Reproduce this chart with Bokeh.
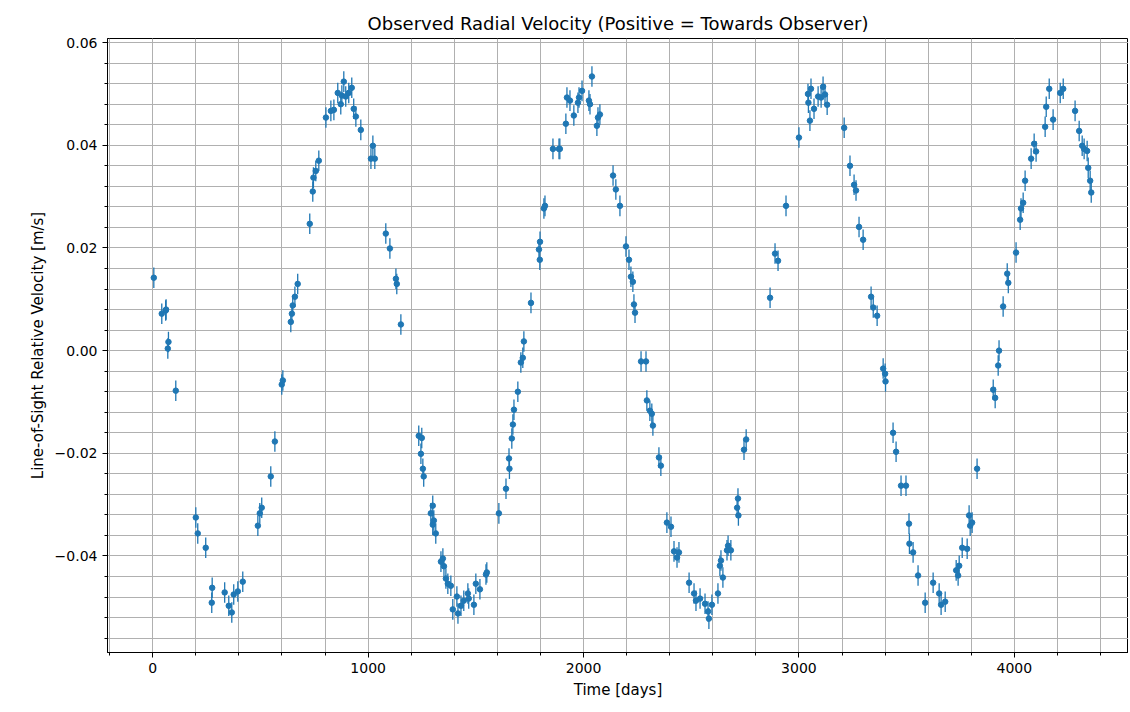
from bokeh.plotting import figure
from bokeh.models import ColumnDataSource, Whisker, SingleIntervalTicker, CustomJSTickFormatter, Range1d
from bokeh.embed import file_html
from bokeh.resources import INLINE

time_days = [5, 42, 60, 62, 70, 73, 107, 200, 209, 246, 274, 276, 334, 353, 367, 376, 395, 418,
             488, 497, 506, 548, 567, 599, 604, 641, 646, 650, 660, 673, 729, 743, 746, 757, 771,
             804, 827, 841, 859, 873, 878, 887, 896, 910, 924, 933, 943, 966, 1013, 1022, 1031,
             1082, 1101, 1129, 1133, 1152, 1235, 1249, 1245, 1254, 1258, 1291, 1300, 1305, 1300,
             1314, 1338, 1347, 1352, 1361, 1370, 1384, 1393, 1412, 1417, 1431, 1444, 1463, 1467,
             1491, 1500, 1519, 1547, 1551, 1607, 1640, 1654, 1656, 1667, 1672, 1677, 1695, 1709,
             1718, 1723, 1756, 1793, 1798, 1797, 1816, 1821, 1858, 1886, 1890, 1918, 1923, 1937,
             1955, 1974, 1979, 1993, 2025, 2030, 2039, 2062, 2067, 2076, 2137, 2150, 2169, 2197,
             2211, 2220, 2229, 2234, 2239, 2267, 2290, 2294, 2308, 2317, 2322, 2350, 2359, 2387,
             2406, 2420, 2434, 2443, 2490, 2513, 2522, 2541, 2564, 2578, 2582, 2596, 2624, 2633,
             2638, 2647, 2666, 2671, 2684, 2713, 2717, 2719, 2745, 2755, 2866, 2889, 2903, 2940,
             3000, 3042, 3044, 3051, 3056, 3070, 3089, 3103, 3112, 3121, 3131, 3210, 3237, 3256,
             3265, 3279, 3298, 3335, 3345, 3363, 3391, 3400, 3402, 3437, 3451, 3474, 3497, 3511,
             3513, 3530, 3553, 3586, 3623, 3651, 3660, 3679, 3730, 3739, 3744, 3758, 3781, 3790,
             3795, 3804, 3827, 3902, 3911, 3925, 3929, 3948, 3967, 3972, 4008, 4027, 4031, 4041,
             4050, 4078, 4092, 4101, 4143, 4148, 4162, 4180, 4213, 4227, 4282, 4301, 4315, 4324,
             4338, 4343, 4352, 4357]

velocity = [0.0142, 0.0072, 0.0078, 0.0080, 0.0004, 0.0017, -0.0078, -0.0325, -0.0356, -0.0384,
            -0.0491, -0.0462, -0.0471, -0.0497, -0.0510, -0.0475, -0.0469, -0.0450, -0.0341,
            -0.0317, -0.0306, -0.0245, -0.0177, -0.0066, -0.0058, 0.0056, 0.0072, 0.0088, 0.0105,
            0.0130, 0.0247, 0.0310, 0.0337, 0.0350, 0.0370, 0.0454, 0.0467, 0.0469, 0.0502, 0.0480,
            0.0497, 0.0524, 0.0495, 0.0502, 0.0512, 0.0471, 0.0456, 0.0430, 0.0374, 0.0399, 0.0374,
            0.0228, 0.0199, 0.0140, 0.0130, 0.0051, -0.0166, -0.0170, -0.0201, -0.0230, -0.0245,
            -0.0317, -0.0302, -0.0331, -0.0339, -0.0356, -0.0411, -0.0405, -0.0420, -0.0444,
            -0.0454, -0.0458, -0.0504, -0.0479, -0.0512, -0.0497, -0.0487, -0.0473, -0.0483,
            -0.0495, -0.0454, -0.0465, -0.0436, -0.0432, -0.0317, -0.0269, -0.0210, -0.0230,
            -0.0171, -0.0144, -0.0115, -0.0080, -0.0023, -0.0014, 0.0018, 0.0093, 0.0197, 0.0212,
            0.0177, 0.0277, 0.0282, 0.0393, 0.0393, 0.0393, 0.0442, 0.0493, 0.0487, 0.0458, 0.0483,
            0.0493, 0.0506, 0.0487, 0.0480, 0.0534, 0.0438, 0.0454, 0.0460, 0.0341, 0.0314, 0.0282,
            0.0203, 0.0177, 0.0144, 0.0134, 0.0090, 0.0074, -0.0021, -0.0021, -0.0097, -0.0117,
            -0.0123, -0.0146, -0.0208, -0.0224, -0.0335, -0.0343, -0.0391, -0.0403, -0.0393,
            -0.0452, -0.0473, -0.0487, -0.0483, -0.0493, -0.0508, -0.0522, -0.0495, -0.0473,
            -0.0419, -0.0409, -0.0442, -0.0389, -0.0380, -0.0389, -0.0306, -0.0288, -0.0321,
            -0.0193, -0.0173, 0.0103, 0.0189, 0.0175, 0.0282, 0.0415, 0.0500, 0.0483, 0.0448,
            0.0510, 0.0471, 0.0495, 0.0493, 0.0514, 0.0499, 0.0479, 0.0434, 0.0360, 0.0323, 0.0312,
            0.0241, 0.0216, 0.0105, 0.0084, 0.0068, -0.0035, -0.0045, -0.0060, -0.0160, -0.0197,
            -0.0263, -0.0263, -0.0337, -0.0376, -0.0393, -0.0438, -0.0491, -0.0452, -0.0473,
            -0.0495, -0.0489, -0.0428, -0.0438, -0.0419, -0.0384, -0.0386, -0.0321, -0.0341,
            -0.0335, -0.0230, -0.0076, -0.0092, -0.0029, 0.0000, 0.0086, 0.0150, 0.0132, 0.0191,
            0.0255, 0.0277, 0.0288, 0.0331, 0.0374, 0.0403, 0.0388, 0.0436, 0.0475, 0.0510, 0.0450,
            0.0502, 0.0510, 0.0467, 0.0428, 0.0399, 0.0393, 0.0389, 0.0356, 0.0331, 0.0308]

ERR = 0.002
BLUE = "#1f77b4"

src = ColumnDataSource(dict(
    t=time_days, v=velocity,
    lo=[v - ERR for v in velocity], hi=[v + ERR for v in velocity]))

p = figure(width=1128, height=710, output_backend="svg", toolbar_location=None,
           title="Observed Radial Velocity (Positive = Towards Observer)",
           x_axis_label="Time [days]", y_axis_label="Line-of-Sight Relative Velocity [m/s]",
           x_range=Range1d(-210, 4530), y_range=Range1d(-0.0588, 0.0608),
           min_border_left=107, min_border_right=0, min_border_bottom=58, min_border_top=38)

p.title.align = "center"
p.title.text_font = "DejaVu Sans"
p.title.text_font_style = "normal"
p.title.text_font_size = "18px"
p.title.text_color = "black"
p.outline_line_color = "black"

p.add_layout(Whisker(source=src, base="t", lower="lo", upper="hi", dimension="height",
                     line_color=BLUE, line_width=1.3, upper_head=None, lower_head=None))
p.scatter("t", "v", source=src, size=5.5, color=BLUE)

p.xaxis.ticker = SingleIntervalTicker(interval=1000, num_minor_ticks=5)
p.yaxis.ticker = SingleIntervalTicker(interval=0.02, num_minor_ticks=5)
p.yaxis.formatter = CustomJSTickFormatter(
    code="return (tick < -1e-9 ? '\u2212' : '') + Math.abs(tick).toFixed(2);")

for ax in (p.xaxis, p.yaxis):
    ax.axis_label_text_font = "DejaVu Sans"
    ax.axis_label_text_font_size = "15px"
    ax.axis_label_text_font_style = "normal"
    ax.axis_label_text_color = "black"
    ax.major_label_text_font = "DejaVu Sans"
    ax.major_label_text_font_size = "14px"
    ax.major_label_text_color = "black"
    ax.axis_line_color = "black"
    ax.major_tick_line_color = "black"
    ax.minor_tick_line_color = "black"
    ax.major_tick_out = 5
    ax.major_tick_in = 0
    ax.minor_tick_out = 3
    ax.minor_tick_in = 0

for g in (p.xgrid, p.ygrid):
    g.grid_line_color = "#b0b0b0"
    g.grid_line_alpha = 1
    g.minor_grid_line_color = "#b0b0b0"

open("out.html", "w").write(file_html(p, INLINE))
